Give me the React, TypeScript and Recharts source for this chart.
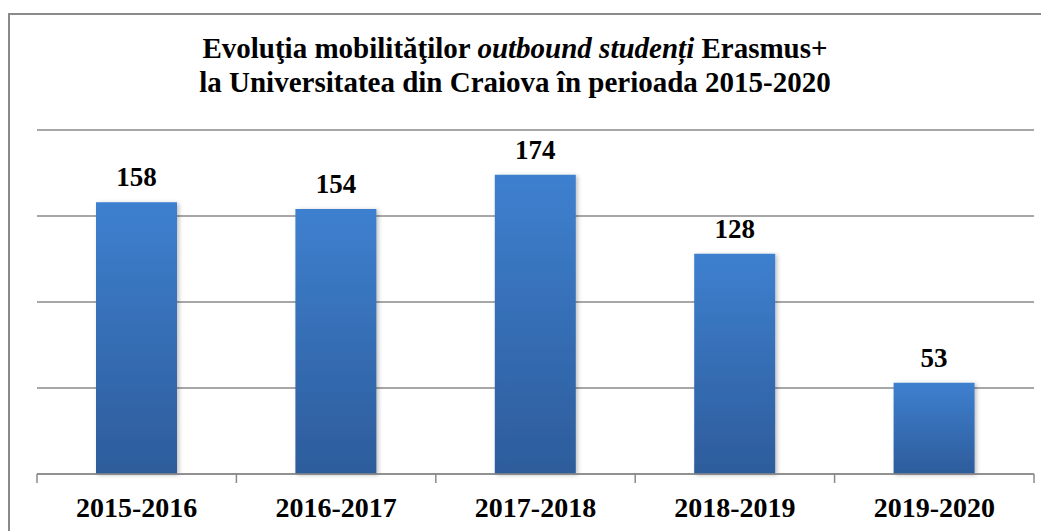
import React from "react";
import { BarChart, Bar, XAxis, YAxis, CartesianGrid, LabelList } from "recharts";

const years = ["2015-2016", "2016-2017", "2017-2018", "2018-2019", "2019-2020"];
const students = [158, 154, 174, 128, 53];
const yTicks = [0, 50, 100, 150, 200];

const chartData = years.map((year, i) => ({ year, students: students[i] }));

const W = 1041;
const H = 516;
const margin = { top: 115, right: 17, left: 27, bottom: 0 };
const band = (W - margin.left - margin.right) / years.length;

const serif = '"Times New Roman", "Liberation Serif", serif';
const gridColor = "#8a8a8a";

function YearTick(props: any) {
  const { x, y, payload, index } = props;
  const left = x - band / 2;
  return (
    <g>
      <line x1={left} y1={y} x2={left} y2={y + 9} stroke={gridColor} strokeWidth={1.5} />
      {index === years.length - 1 && (
        <line x1={x + band / 2} y1={y} x2={x + band / 2} y2={y + 9} stroke={gridColor} strokeWidth={1.5} />
      )}
      <text
        x={x}
        y={y + 43}
        textAnchor="middle"
        fontFamily={serif}
        fontWeight="bold"
        fontSize={28}
        fill="#000"
      >
        {payload.value}
      </text>
    </g>
  );
}

function ValueLabel(props: any) {
  const { x, y, width, value } = props;
  return (
    <text
      x={x + width / 2}
      y={y - 16}
      textAnchor="middle"
      fontFamily={serif}
      fontWeight="bold"
      fontSize={27}
      fill="#000"
    >
      {value}
    </text>
  );
}

export default function App() {
  return (
    <div
      style={{
        position: "relative",
        marginTop: 5,
        width: W,
        height: H,
        borderLeft: `2px solid ${gridColor}`,
        borderTop: `2px solid ${gridColor}`,
        background: "#fff",
      }}
    >
      <div
        style={{
          position: "absolute",
          left: 0,
          top: 16,
          width: 1010,
          textAlign: "center",
          fontFamily: serif,
          fontWeight: "bold",
          fontSize: 29,
          lineHeight: "34px",
          color: "#000",
        }}
      >
        Evoluţia mobilităţilor <i>outbound studenți</i> Erasmus+
        <br />
        la Universitatea din Craiova în perioada 2015-2020
      </div>
      <BarChart width={W} height={H} data={chartData} margin={margin}>
        <defs>
          <linearGradient id="barGrad" x1="0" y1="0" x2="0" y2="1">
            <stop offset="0%" stopColor="#3e80cf" />
            <stop offset="100%" stopColor="#2d5c9b" />
          </linearGradient>
          <filter id="barShadow" x="-10%" y="-10%" width="130%" height="130%">
            <feDropShadow dx={2} dy={1} stdDeviation={2} floodColor="#000" floodOpacity={0.25} />
          </filter>
        </defs>
        <CartesianGrid horizontal vertical={false} stroke={gridColor} strokeWidth={1.5} />
        <YAxis hide domain={[0, 200]} ticks={yTicks} />
        <XAxis
          dataKey="year"
          height={57}
          axisLine={{ stroke: gridColor, strokeWidth: 1.5 }}
          tickLine={false}
          tickSize={0}
          tickMargin={0}
          interval={0}
          tick={<YearTick />}
        />
        <Bar
          dataKey="students"
          barSize={81}
          fill="url(#barGrad)"
          filter="url(#barShadow)"
          isAnimationActive={false}
        >
          <LabelList dataKey="students" content={<ValueLabel />} />
        </Bar>
      </BarChart>
    </div>
  );
}
